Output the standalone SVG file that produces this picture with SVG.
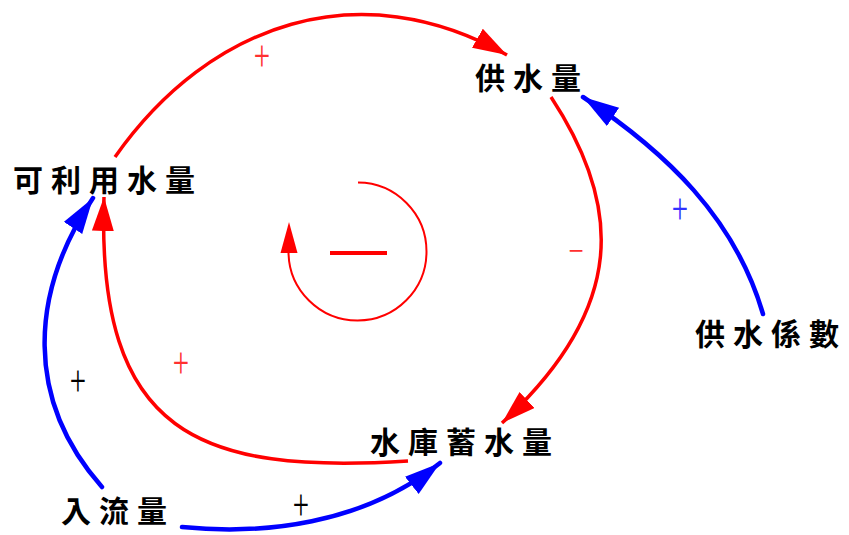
<svg xmlns="http://www.w3.org/2000/svg" width="849" height="535" viewBox="0 0 849 535">
<style>
.node text{font-family:"Noto Sans CJK TC","Noto Sans CJK SC",sans-serif;font-size:30px;font-weight:700;letter-spacing:8px;fill:#000}
.r{fill:none;stroke:#ff0000;stroke-width:3.5}
.b{fill:none;stroke:#0000ff;stroke-width:4.5;stroke-linecap:round}
.pl{font-family:"Liberation Serif",serif;font-size:34px;text-anchor:middle}
</style>
<defs>
<marker id="ar" markerUnits="userSpaceOnUse" markerWidth="36" markerHeight="24" refX="34" refY="11" orient="auto"><path d="M0,0 L34,11 L0,22 z" fill="#ff0000"/></marker>
<marker id="ab" markerUnits="userSpaceOnUse" markerWidth="38" markerHeight="24" refX="36" refY="11" orient="auto"><path d="M0,0 L36,11 L0,22 z" fill="#0000ff"/></marker>
</defs>
<g id="connectors">
<path class="r" d="M115,157 C210,22 360,-28 507,55" marker-end="url(#ar)"/>
<path class="r" d="M551,97 C622,205 628,307 502,423" marker-end="url(#ar)"/>
<path class="r" d="M408,461 C200,474 96,436 104,197" marker-end="url(#ar)"/>
<path class="b" d="M102,487 C25,400 29,294 93,198" marker-end="url(#ab)"/>
<path class="b" d="M182,527 C262,535 362,525 440,463" marker-end="url(#ab)"/>
<path class="b" d="M763,314 C735,218 666,152 583,97" marker-end="url(#ab)"/>
<path d="M358,182.5 A69,69 0 1 1 288.5,252" fill="none" stroke="#ff0000" stroke-width="2"/>
<polygon points="289,222 280.5,253 297.5,253" fill="#ff0000"/>
<line x1="330" y1="253" x2="387" y2="253" stroke="#ff0000" stroke-width="4"/>
<text class="pl" transform="translate(262,57) scale(0.85,1.3)" y="11" fill="#ff3030">+</text>
<text class="pl" transform="translate(181,364) scale(0.85,1.3)" y="11" fill="#ff3030">+</text>
<text class="pl" transform="translate(576,251) scale(0.8,1)" y="11" fill="#ff3030">−</text>
<text class="pl" transform="translate(680,210) scale(0.85,1.3)" y="11" fill="#3030ff">+</text>
<text class="pl" transform="translate(78,382) scale(0.85,1.3)" y="11" fill="#000">+</text>
<text class="pl" transform="translate(301,506) scale(0.85,1.3)" y="11" fill="#000">+</text>
</g>
<g id="n1" class="node"><text x="13" y="191">可利用水量</text></g>
<g id="n2" class="node"><text x="475" y="89">供水量</text></g>
<g id="n3" class="node"><text x="370" y="453">水庫蓄水量</text></g>
<g id="n4" class="node"><text x="61" y="522">入流量</text></g>
<g id="n5" class="node"><text x="695" y="345">供水係數</text></g>
</svg>
